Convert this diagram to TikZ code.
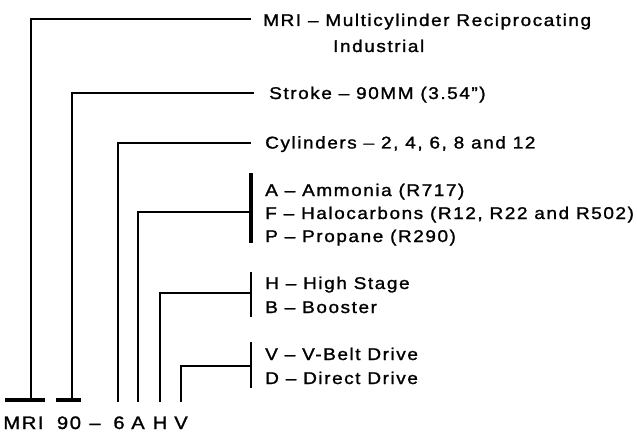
\documentclass[tikz,border=0pt]{standalone}
\usepackage{fontspec}
\setmainfont{Liberation Sans}[LetterSpace=9,FakeStretch=1.12,FakeBold=1.3]
\begin{document}
\begin{tikzpicture}[x=1pt,y=-1pt,
  lbl/.style={anchor=base west,inner sep=0pt,font=\fontsize{17}{20}\selectfont},
  code/.style={anchor=base,inner sep=0pt,font=\fontsize{18}{22}\selectfont},
  ln/.style={line width=2.8pt,line cap=rect},
  bar/.style={line width=3.2pt}]
\useasboundingbox (0,0) rectangle (637,433);
% labels
\node[lbl] (tMRI) at (263,26) {MRI -- Multicylinder Reciprocating};
\node[lbl] (tInd) at (333,52) {Industrial};
\node[lbl] (tStr) at (269,99) {Stroke -- 90MM (3.54'')};
\node[lbl] (tCyl) at (265,148.5) {Cylinders -- 2, 4, 6, 8 and 12};
\node[lbl] (tA) at (265,196) {A -- Ammonia (R717)};
\node[lbl] (tF) at (265,219) {F -- Halocarbons (R12, R22 and R502)};
\node[lbl] (tP) at (265,242) {P -- Propane (R290)};
\node[lbl] (tH) at (265,289) {H -- High Stage};
\node[lbl] (tB) at (265,313) {B -- Booster};
\node[lbl] (tV) at (265,360) {V -- V-Belt Drive};
\node[lbl] (tD) at (265,384) {D -- Direct Drive};
% code letters
\node[code] (cMRI) at (23.5,429) {MRI};
\node[code] (c90) at (69,429) {90};
\node[code] (cdash) at (95,429) {--};
\node[code] (c6) at (119,429) {6};
\node[code] (cA) at (138,429) {A};
\node[code] (cH) at (160,429) {H};
\node[code] (cV) at (181,429) {V};
% corner / end coordinates
\coordinate (b1) at (31,400);  \coordinate (e1) at (250,19);
\coordinate (b2) at (72,400);  \coordinate (e2) at (253,93);
\coordinate (b3) at (118,401); \coordinate (e3) at (250,143);
\coordinate (b4) at (138,401); \coordinate (e4) at (251,212);
\coordinate (b5) at (160,401); \coordinate (e5) at (251,293);
\coordinate (b6) at (181,401); \coordinate (e6) at (251,366);
\draw[ln] (b1) |- (e1);
\draw[ln] (b2) |- (e2);
\draw[ln] (b3) |- (e3);
\draw[ln] (b4) |- (e4);
\draw[ln] (b5) |- (e5);
\draw[ln] (b6) |- (e6);
% bottom bars
\coordinate (p1a) at (5,400); \coordinate (p1b) at (45,400);
\coordinate (p2a) at (56,400); \coordinate (p2b) at (81,400);
\draw[bar] (p1a) -- (p1b);
\draw[bar] (p2a) -- (p2b);
% brackets
\coordinate (k4a) at (251,173); \coordinate (k4b) at (251,243);
\coordinate (k5a) at (251,273); \coordinate (k5b) at (251,316);
\coordinate (k6a) at (251,343); \coordinate (k6b) at (251,387);
\draw[bar] (k4a) -- (k4b);
\draw[ln] (k5a) -- (k5b);
\draw[ln] (k6a) -- (k6b);
\end{tikzpicture}
\end{document}
